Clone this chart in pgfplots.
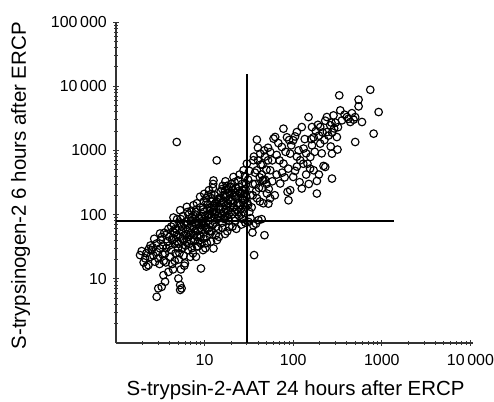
\documentclass[border=0pt]{standalone}
\usepackage{fontspec}
\setmainfont{Liberation Sans}
\usepackage{pgfplots}
\pgfplotsset{compat=1.18}
\begin{document}
\begin{tikzpicture}
\path[use as bounding box] (0,0) rectangle (494bp,402bp);
\begin{axis}[
  at={(116bp,59bp)}, anchor=south west,
  scale only axis, width=357bp, height=321bp,
  xmode=log, ymode=log,
  xmin=1, xmax=10700, ymin=1, ymax=100000,
  axis x line*=bottom, axis y line*=left,
  axis line style={line width=1.1bp, black!80, -},
  xtick={10,100,1000,10000}, xticklabels={10,100,1000,10\,000},
  ytick={10,100,1000,10000,100000}, yticklabels={10,100,1000,10\,000,100\,000},
  minor xtick={2,3,4,5,6,7,8,9,20,30,40,50,60,70,80,90,200,300,400,500,600,700,800,900,2000,3000,4000,5000,6000,7000,8000,9000},
  minor ytick={2,3,4,5,6,7,8,9,20,30,40,50,60,70,80,90,200,300,400,500,600,700,800,900,2000,3000,4000,5000,6000,7000,8000,9000,20000,30000,40000,50000,60000,70000,80000,90000},
  tick style={black!80, line width=0.8bp},
  major tick length=6bp, minor tick length=4bp,
  tick align=center,
  tick label style={font=\fontsize{16}{18}\selectfont},
  xticklabel style={anchor=north, inner sep=0pt, yshift=-8bp},
  yticklabel style={anchor=east, inner sep=0pt, xshift=-6bp},
  label style={font=\fontsize{20.5}{24}\selectfont},
  xlabel={S-trypsin-2-AAT 24 hours after ERCP},
  ylabel={S-trypsinogen-2 6 hours after ERCP},
  xlabel style={at={(axis description cs:0.503,-0.162)}, anchor=base},
  ylabel style={at={(axis description cs:-0.2675,0.49)}, anchor=center},
  clip=false,
]
\addplot[black, line width=1.5bp] coordinates {(30,1) (30,15600)};
\addplot[black, line width=1.5bp] coordinates {(1,79) (1360,79)};
\addplot[only marks, mark=o, mark size=3.8bp, mark options={line width=1.15bp, black}] table {
x y
1.87 23.4
2.13 20.8
2.42 22
2.32 16.3
1.95 27
2.2 25
2.05 18
2.35 29
2.45 33
2.2 15.5
2.53 27.9
3.14 29.7
2.76 18.4
3.0 20.8
2.88 35.5
3.2 40
2.6 31
3.35 24
3.4 33
2.9 26
3.1 17
3.3 45
2.7 42
3.43 11.4
3.28 7.5
2.88 5.25
3.0 7.1
3.5 52
2.65 23
3.45 19
3.14 50.8
3.58 24.8
3.58 9.0
3.9 12.8
3.7 30
3.8 38
4.0 45
4.2 28
4.4 55
3.9 60
4.6 35
4.1 22
4.5 70
4.8 48
4.3 17
4.7 25
4.9 85
4.0 33
4.5 42
3.75 50
4.85 58
4.4 14
4.6 19
4.2 65
3.65 18
4.45 90
4.85 1350
5.06 10.1
5.3 8.0
5.3 6.7
5.5 7.1
5.4 14
5.2 25
5.6 30
5.8 40
6.0 17.4
6.2 50
5.1 35
5.5 55
6.5 28
6.8 62
5.9 70
6.3 38
6.6 45
7.0 80
5.7 95
6.4 110
6.9 22
5.3 45
6.1 60
6.7 35
5.8 23
7.0 52
6.2 78
5.5 65
6.6 100
5.9 16
5.3 117
6.3 132
7.2 30
7.5 40
7.8 55
8.0 70
8.3 45
8.6 90
8.9 62
9.2 35
9.5 80
9.8 110
7.4 25
7.7 85
8.1 120
8.4 32
8.8 48
9.1 14.5
9.4 58
9.7 42
7.3 65
7.9 100
8.2 150
8.7 75
9.0 130
9.6 28
9.9 68
7.6 48
8.5 38
9.3 95
8.9 190
9.8 160
7.1 115
7.5 140
9.9 210
8.0 22
10.2 30
10.5 45
10.8 60
11.0 80
11.3 100
11.6 130
12.0 55
12.3 70
12.6 29.7
12.9 90
13.2 150
13.5 110
13.8 40
10.4 180
11.2 240
12.5 300
13.0 200
10.7 120
11.8 38
12.2 160
13.6 65
10.1 95
11.5 50
12.8 120
13.3 48
10.9 145
11.9 210
13.9 85
10.3 62
12.4 260
14.0 175
11.4 72
10.6 36
12.6 340
13.7 700
14.3 60
14.7 90
15.0 120
15.4 150
15.8 75
16.2 200
16.6 110
17.0 50
17.4 140
17.8 95
18.2 250
18.6 170
19.0 65
19.4 130
19.8 300
14.5 45
15.2 230
16.0 280
16.8 85
17.6 190
18.4 115
19.2 210
15.6 100
17.2 330
18.8 80
14.8 180
16.4 160
19.6 160
15.9 62
18.0 55
17.0 240
20.3 100
21.0 150
21.5 200
22.0 80
22.5 260
23.0 120
23.5 180
24.0 340
24.5 95
25.0 140
25.5 220
26.0 70
26.5 300
27.0 170
27.5 110
28.0 250
28.5 400
29.0 130
29.5 190
20.6 65
21.8 320
22.8 60
23.8 230
24.8 420
25.8 100
26.8 85
27.5 490
28.8 75
20.8 240
22.2 110
24.2 150
26.2 180
28.2 210
29.3 300
21.2 386
30 622
31.3 77
31 140
33 200
35 300
37 450
39 180
41 260
43 600
46 150
48 350
50 500
53 250
31 350
34 130
36 800
40 700
44 420
47 1000
52 700
55 180
32 480
38 230
42 160
45 340
30.5 150
32 110
35 200
37 300
34.7 52.6
47.4 47.8
36.2 23.4
35.5 68
40.5 82
33 88
44 85
38 72
38.9 1470
77.6 2180
110 1930
125 2310
163 2310
202 2310
240 1930
262 2460
285 3510
355 2940
240 3310
149 3310
60 1525
100 1435
74.5 1130
55 944
92.5 890
131 1067
163 1200
202 1276
156 789
120 702
77.6 623
55 490
100 386
71.3 305
46.2 343
92.5 240
50.5 213
35.6 702
42.4 890
38.9 490
311 1615
316 1030
274 890
230 552
274 364
185 334
185 213
125 255
88.5 167
404 3310
441 2770
480 3010
597 2770
501 1352
809 1823
921 3960
741 8800
547 6170
547 4850
331 7200
340 4200
62.6 1620
170 490
220 573
52.5 148
86.3 226
45 600
48 800
52 1100
58 700
65 850
68 1300
82 950
85 1600
88 520
95 1200
105 1650
110 560
115 1000
135 1500
140 900
145 620
170 1600
175 950
180 2000
195 1700
210 900
215 1900
225 1450
250 1700
265 1150
290 2200
300 2700
320 2300
380 3600
420 3100
460 3800
500 3300
65 420
58 330
70 700
45 260
62 200
40 1100
42 380
50 300
75 450
80 380
105 480
118 320
140 420
150 300
155 520
195 420
130 620
110 800
90 1450
160 1500
190 2500
230 2900
270 2700
275 1900
4.3 40
4.7 60
5.0 30
5.2 75
5.6 42
4.9 38
5.4 85
5.9 48
4.6 52
5.1 20
6.1 33
6.4 70
6.8 48
7.2 90
7.6 60
8.0 110
8.4 55
8.8 85
9.2 70
9.6 120
7.0 40
8.2 32
9.0 45
6.6 85
7.8 75
10.3 75
10.8 100
11.3 55
11.7 90
12.2 110
12.7 135
13.1 75
13.6 160
14.2 95
10.5 155
11.0 200
12.0 180
13.0 100
14.4 130
11.5 115
15.3 180
16.0 130
16.8 200
17.5 120
18.3 150
19.0 220
19.8 110
20.5 170
21.5 130
22.5 190
23.5 150
24.5 270
25.5 120
26.5 240
27.5 150
28.5 170
15.8 250
17.8 280
20.0 270
22.0 220
24.0 110
26.0 210
29.0 250
16.5 90
18.7 100
};
\end{axis}
\end{tikzpicture}
\end{document}
